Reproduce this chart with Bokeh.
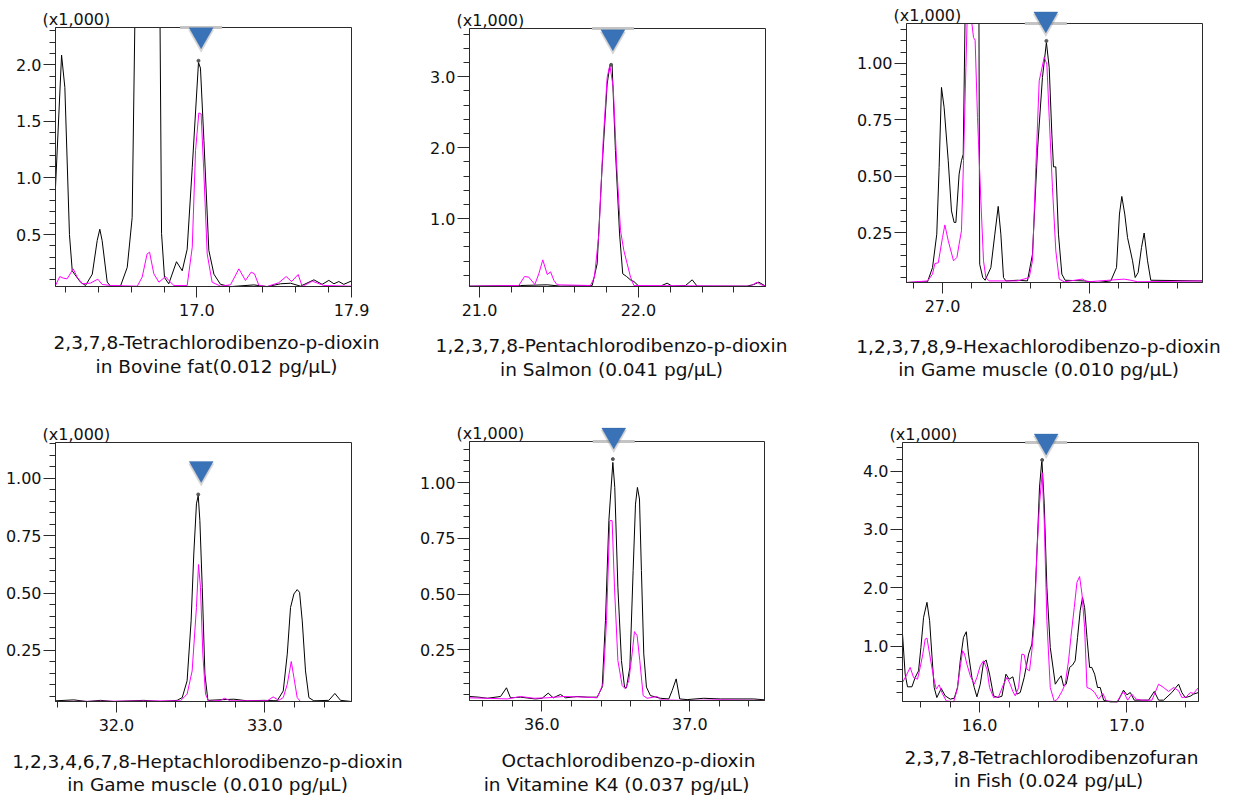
import numpy as np
from bokeh.plotting import figure
from bokeh.layouts import column, row
from bokeh.models import (FixedTicker, Label, PolyAnnotation, Range1d,
                          NumeralTickFormatter)
from bokeh.embed import file_html
from bokeh.resources import INLINE

# ---------------- data (retention time in min, intensity x1,000) ----------------
titles = [
    ("2,3,7,8-Tetrachlorodibenzo-p-dioxin", "in Bovine fat(0.012 pg/\u00b5L)"),
    ("1,2,3,7,8-Pentachlorodibenzo-p-dioxin", "in Salmon (0.041 pg/\u00b5L)"),
    ("1,2,3,7,8,9-Hexachlorodibenzo-p-dioxin", "in Game muscle (0.010 pg/\u00b5L)"),
    ("1,2,3,4,6,7,8-Heptachlorodibenzo-p-dioxin", "in Game muscle (0.010 pg/\u00b5L)"),
    ("Octachlorodibenzo-p-dioxin", "in Vitamine K4 (0.037 pg/\u00b5L)"),
    ("2,3,7,8-Tetrachlorodibenzofuran", "in Fish (0.024 pg/\u00b5L)"),
]
scale_label = "(x1,000)"

x_ranges = [(16.139, 17.942), (20.937, 22.799), (26.755, 28.769),
            (31.589, 33.584), (35.511, 37.505), (15.477, 17.486)]
y_ranges = [(0.041, 2.329), (0.042, 3.681), (0.030, 1.177),
            (0.028, 1.155), (0.023, 1.185), (0.050, 4.490)]

x_major = [[17.0, 17.942], [21.0, 22.0], [27.0, 28.0],
           [32.0, 33.0], [36.0, 37.0], [16.0, 17.0]]
x_minor_start = [16.2, 21.2, 26.8, 31.6, 35.6, 15.6]
x_minor_end = [17.8, 22.6, 28.6, 33.4, 37.4, 17.4]
y_major = [[0.5, 1.0, 1.5, 2.0], [1.0, 2.0, 3.0], [0.25, 0.5, 0.75, 1.0],
           [0.25, 0.5, 0.75, 1.0], [0.25, 0.5, 0.75, 1.0], [1.0, 2.0, 3.0, 4.0]]
y_minor_step = [0.1, 0.2, 0.05, 0.05, 0.05, 0.2]
y_formats = ["0.0", "0.0", "0.00", "0.00", "0.00", "0.0"]

# Panel 1 (off-scale peak shown clipped at the display maximum)
p1_t_black = [16.139, 16.176, 16.196, 16.224, 16.241, 16.255, 16.291, 16.322, 16.363, 16.393,
              16.409, 16.423, 16.454, 16.474, 16.535, 16.576, 16.606, 16.622, 16.776,
              16.785, 16.803, 16.829, 16.876, 16.911, 16.941, 16.972, 17.010, 17.022, 17.043,
              17.073, 17.104, 17.144, 17.205, 17.347, 17.428, 17.510, 17.571, 17.631, 17.713,
              17.763, 17.804, 17.835, 17.865, 17.895, 17.942]
p1_v_black = [0.918, 2.085, 1.80, 0.50, 0.18, 0.15, 0.08, 0.05, 0.15, 0.447,
              0.547, 0.447, 0.08, 0.045, 0.045, 0.21, 0.65, 2.329, 2.329,
              0.51, 0.12, 0.065, 0.26, 0.18, 0.37, 1.094, 2.02, 1.97, 1.33,
              0.36, 0.15, 0.06, 0.04, 0.055, 0.04, 0.065, 0.07, 0.044, 0.10,
              0.06, 0.095, 0.065, 0.085, 0.06, 0.09]
p1_t_mag = [16.139, 16.165, 16.186, 16.210, 16.247, 16.271, 16.302, 16.352, 16.397, 16.423,
            16.474, 16.637, 16.667, 16.697, 16.712, 16.738, 16.769, 16.809, 16.829, 16.860,
            16.941, 16.972, 16.992, 17.012, 17.026, 17.043, 17.063, 17.093, 17.144, 17.205,
            17.256, 17.296, 17.331, 17.351, 17.378, 17.428, 17.499, 17.544, 17.577, 17.617,
            17.642, 17.703, 17.774, 17.942]
p1_v_mag = [0.05, 0.129, 0.115, 0.109, 0.197, 0.124, 0.065, 0.071, 0.106, 0.059,
            0.05, 0.044, 0.124, 0.329, 0.344, 0.153, 0.079, 0.129, 0.094, 0.05,
            0.05, 0.388, 1.241, 1.574, 1.565, 1.035, 0.329, 0.079, 0.044, 0.056,
            0.197, 0.094, 0.168, 0.153, 0.05, 0.041, 0.074, 0.129, 0.085, 0.147,
            0.041, 0.088, 0.05, 0.044]

# Panel 2
p2_t_black = [20.937, 21.258, 21.426, 21.509, 21.709, 21.740, 21.771, 21.803, 21.820, 21.834,
              21.855, 21.881, 21.901, 21.925, 21.954, 21.971, 22.002, 22.138, 22.180, 22.212,
              22.296, 22.338, 22.369, 22.683, 22.725, 22.757, 22.799]
p2_v_black = [0.047, 0.056, 0.066, 0.047, 0.056, 0.362, 1.723, 2.897, 3.164, 3.169,
              1.958, 0.784, 0.221, 0.183, 0.127, 0.113, 0.047, 0.047, 0.089, 0.047,
              0.056, 0.136, 0.047, 0.047, 0.070, 0.103, 0.047]
p2_t_mag = [20.937, 21.247, 21.283, 21.310, 21.348, 21.373, 21.398, 21.426, 21.447, 21.468,
            21.488, 21.698, 21.723, 21.751, 21.778, 21.803, 21.820, 21.841, 21.866, 21.887,
            21.908, 21.929, 21.950, 21.971, 22.704, 22.746, 22.767, 22.799]
p2_v_mag = [0.047, 0.056, 0.183, 0.174, 0.070, 0.221, 0.418, 0.211, 0.249, 0.127,
            0.066, 0.056, 0.174, 0.784, 2.099, 2.991, 3.164, 2.850, 1.629, 0.831,
            0.549, 0.362, 0.174, 0.056, 0.047, 0.103, 0.070, 0.047]

# Panel 3 (off-scale peak shown clipped at the display maximum)
p3_t_black = [26.755, 26.898, 26.932, 26.961, 26.977, 26.993, 27.011, 27.039, 27.061, 27.079,
              27.091, 27.113, 27.129, 27.141, 27.153, 27.248, 27.253, 27.274, 27.290,
              27.329, 27.356, 27.379, 27.397, 27.415, 27.431, 27.510, 27.578, 27.612, 27.646,
              27.680, 27.707, 27.726, 27.744, 27.755, 27.771, 27.789, 27.812, 27.834, 27.964,
              28.054, 28.145, 28.184, 28.204, 28.220, 28.240, 28.259, 28.293, 28.311, 28.331,
              28.354, 28.372, 28.395, 28.417, 28.769]
p3_v_black = [0.030, 0.033, 0.096, 0.244, 0.539, 0.894, 0.805, 0.569, 0.347, 0.296,
              0.296, 0.510, 0.569, 0.598, 1.177, 1.177, 0.111, 0.052, 0.040,
              0.096, 0.244, 0.367, 0.244, 0.052, 0.037, 0.040, 0.037, 0.155, 0.613,
              0.938, 1.093, 0.982, 0.687, 0.542, 0.542, 0.244, 0.067, 0.040, 0.037,
              0.030, 0.037, 0.096, 0.333, 0.411, 0.333, 0.229, 0.126, 0.052, 0.074,
              0.185, 0.249, 0.126, 0.040, 0.037]
p3_t_mag = [26.755, 26.898, 26.932, 26.948, 26.971, 27.000, 27.016, 27.039, 27.075, 27.098,
            27.113, 27.129, 27.143, 27.159, 27.167, 27.200, 27.211, 27.222, 27.238, 27.261,
            27.279, 27.295, 27.317, 27.510, 27.590, 27.612, 27.635, 27.658, 27.692, 27.710,
            27.726, 27.748, 27.771, 27.794, 27.828, 27.952, 27.986, 28.236, 28.281, 28.327,
            28.769]
p3_v_mag = [0.030, 0.037, 0.067, 0.114, 0.117, 0.229, 0.285, 0.215, 0.126, 0.141,
            0.200, 0.259, 0.569, 0.982, 1.177, 1.177, 1.115, 1.103, 0.761, 0.392,
            0.126, 0.052, 0.037, 0.037, 0.052, 0.126, 0.539, 0.923, 1.027, 0.997,
            0.761, 0.451, 0.170, 0.045, 0.033, 0.045, 0.033, 0.045, 0.040, 0.033,
            0.037]

# Panel 4
p4_t_black = [31.589, 31.712, 31.802, 31.892, 31.982, 32.184, 32.297, 32.409, 32.443, 32.476,
              32.503, 32.521, 32.539, 32.551, 32.562, 32.578, 32.596, 32.616, 32.791, 32.881,
              32.993, 33.083, 33.124, 33.151, 33.173, 33.196, 33.218, 33.234, 33.252, 33.274,
              33.297, 33.330, 33.431, 33.472, 33.510, 33.584]
p4_v_black = [0.031, 0.035, 0.028, 0.033, 0.028, 0.033, 0.028, 0.033, 0.045, 0.118,
              0.379, 0.670, 0.888, 0.924, 0.815, 0.525, 0.147, 0.033, 0.038, 0.031,
              0.033, 0.031, 0.074, 0.234, 0.437, 0.496, 0.515, 0.503, 0.379, 0.161,
              0.045, 0.031, 0.033, 0.063, 0.033, 0.028]
p4_t_mag = [31.589, 32.431, 32.476, 32.510, 32.539, 32.553, 32.566, 32.582, 32.600, 32.622,
            32.701, 32.728, 32.769, 33.016, 33.056, 33.094, 33.124, 33.151, 33.178, 33.196,
            33.218, 33.240, 33.584]
p4_v_mag = [0.028, 0.031, 0.060, 0.161, 0.437, 0.624, 0.525, 0.234, 0.060, 0.028,
            0.033, 0.042, 0.031, 0.031, 0.048, 0.033, 0.045, 0.103, 0.202, 0.132,
            0.045, 0.028, 0.028]

# Panel 5
p5_t_black = [35.511, 35.574, 35.631, 35.721, 35.761, 35.788, 35.856, 35.957, 36.002, 36.043,
              36.077, 36.126, 36.160, 36.239, 36.306, 36.374, 36.408, 36.430, 36.453, 36.480,
              36.493, 36.514, 36.538, 36.559, 36.572, 36.595, 36.617, 36.633, 36.646, 36.660,
              36.673, 36.689, 36.707, 36.734, 36.802, 36.858, 36.881, 36.908, 36.932, 36.982,
              37.095, 37.207, 37.432, 37.505]
p5_v_black = [0.041, 0.038, 0.033, 0.041, 0.080, 0.035, 0.038, 0.030, 0.033, 0.056,
              0.035, 0.050, 0.035, 0.041, 0.038, 0.038, 0.083, 0.381, 0.830, 1.091,
              0.979, 0.531, 0.202, 0.083, 0.080, 0.172, 0.606, 0.904, 0.979, 0.927,
              0.606, 0.232, 0.083, 0.045, 0.033, 0.030, 0.068, 0.120, 0.030, 0.027,
              0.033, 0.030, 0.030, 0.026]
p5_t_mag = [35.511, 35.631, 35.766, 35.856, 35.946, 36.036, 36.149, 36.306, 36.374, 36.414,
            36.437, 36.459, 36.475, 36.491, 36.514, 36.543, 36.565, 36.588, 36.610, 36.626,
            36.644, 36.662, 36.685, 36.712, 36.779, 36.802, 36.982, 37.207, 37.505]
p5_v_mag = [0.035, 0.033, 0.030, 0.041, 0.033, 0.035, 0.041, 0.038, 0.035, 0.098,
            0.381, 0.830, 0.830, 0.531, 0.202, 0.090, 0.075, 0.113, 0.232, 0.332,
            0.314, 0.202, 0.045, 0.033, 0.041, 0.026, 0.023, 0.026, 0.023]

# Panel 6
p6_t_black = [15.477, 15.495, 15.511, 15.541, 15.563, 15.586, 15.602, 15.620, 15.643, 15.661,
              15.676, 15.692, 15.710, 15.740, 15.767, 15.801, 15.828, 15.851, 15.869, 15.891,
              15.910, 15.925, 15.948, 15.964, 15.982, 16.005, 16.027, 16.045, 16.068, 16.095,
              16.124, 16.152, 16.179, 16.201, 16.226, 16.253, 16.276, 16.303, 16.333, 16.355,
              16.371, 16.389, 16.407, 16.423, 16.439, 16.457, 16.480, 16.514, 16.536, 16.554,
              16.570, 16.588, 16.611, 16.631, 16.649, 16.665, 16.683, 16.699, 16.713, 16.729,
              16.747, 16.762, 16.781, 16.801, 16.819, 16.842, 16.887, 16.937, 16.977, 17.000,
              17.023, 17.050, 17.102, 17.147, 17.186, 17.215, 17.249, 17.305, 17.351, 17.373,
              17.396, 17.430, 17.452, 17.486]
p6_v_black = [1.206, 0.519, 0.302, 0.302, 0.462, 0.576, 0.977, 1.492, 1.750, 1.435,
              0.863, 0.290, 0.118, 0.273, 0.147, 0.090, 0.107, 0.290, 0.748, 1.149,
              1.246, 0.863, 0.462, 0.290, 0.130, 0.347, 0.720, 0.760, 0.519, 0.147,
              0.118, 0.141, 0.519, 0.433, 0.473, 0.176, 0.204, 0.462, 0.863, 1.034,
              1.550, 2.580, 3.725, 4.194, 3.438, 2.007, 0.977, 0.347, 0.433, 0.491,
              0.319, 0.347, 0.634, 0.674, 0.748, 1.149, 1.607, 1.836, 1.664, 1.149,
              0.634, 0.634, 0.519, 0.290, 0.290, 0.073, 0.044, 0.044, 0.244, 0.164,
              0.204, 0.073, 0.073, 0.073, 0.222, 0.073, 0.073, 0.204, 0.347, 0.204,
              0.118, 0.141, 0.176, 0.204]
p6_t_mag = [15.477, 15.502, 15.529, 15.552, 15.579, 15.597, 15.615, 15.631, 15.643, 15.661,
            15.688, 15.706, 15.726, 15.744, 15.774, 15.824, 15.846, 15.869, 15.885, 15.898,
            15.914, 15.937, 15.964, 15.982, 16.005, 16.027, 16.050, 16.068, 16.095, 16.129,
            16.163, 16.186, 16.208, 16.226, 16.242, 16.265, 16.287, 16.303, 16.321, 16.339,
            16.355, 16.373, 16.389, 16.407, 16.425, 16.439, 16.457, 16.480, 16.507, 16.529,
            16.559, 16.581, 16.604, 16.620, 16.643, 16.661, 16.679, 16.695, 16.713, 16.729,
            16.756, 16.781, 16.808, 16.837, 16.860, 16.932, 16.977, 17.005, 17.034, 17.063,
            17.102, 17.170, 17.215, 17.249, 17.283, 17.317, 17.351, 17.373, 17.403, 17.430,
            17.452, 17.486]
p6_v_mag = [0.376, 0.491, 0.634, 0.462, 0.433, 0.634, 0.863, 1.120, 1.137, 0.863,
            0.462, 0.262, 0.336, 0.204, 0.061, 0.044, 0.233, 0.634, 0.920, 0.863,
            0.691, 0.491, 0.347, 0.462, 0.662, 0.748, 0.605, 0.290, 0.118, 0.130,
            0.347, 0.462, 0.347, 0.222, 0.147, 0.290, 0.863, 0.851, 0.605, 0.576,
            0.920, 1.435, 2.580, 3.438, 3.971, 3.152, 1.435, 0.290, 0.050, 0.090,
            0.222, 0.347, 0.748, 1.149, 1.664, 2.093, 2.191, 1.893, 1.321, 0.290,
            0.262, 0.204, 0.090, 0.187, 0.061, 0.044, 0.222, 0.073, 0.176, 0.090,
            0.073, 0.073, 0.347, 0.290, 0.222, 0.290, 0.233, 0.118, 0.130, 0.204,
            0.187, 0.290]

black_t = [p1_t_black, p2_t_black, p3_t_black, p4_t_black, p5_t_black, p6_t_black]
black_v = [p1_v_black, p2_v_black, p3_v_black, p4_v_black, p5_v_black, p6_v_black]
mag_t = [p1_t_mag, p2_t_mag, p3_t_mag, p4_t_mag, p5_t_mag, p6_t_mag]
mag_v = [p1_v_mag, p2_v_mag, p3_v_mag, p4_v_mag, p5_v_mag, p6_v_mag]

# peak markers: triangle centre time, apex (time, value)
marker_t = [17.026, 21.839, 27.703, 32.571, 36.486, 16.452]
peak_t = [17.010, 21.828, 27.707, 32.551, 36.480, 16.425]
peak_v = [2.035, 3.169, 1.100, 0.929, 1.106, 4.190]

# ---------------- layout / style ----------------
FONT = "DejaVu Sans"
AX = "#2a2a2a"
cell_w = [412, 433, 391, 412, 433, 391]
cell_h = [400, 400, 400, 402, 402, 402]
box_w = [296, 296, 296, 296, 295, 296]
box_h = [259, 258, 259, 259, 259, 259]
box_left = [55, 57, 61, 55, 57, 57]
box_top = [27, 28, 23, 42, 41, 42]
tri_gap = [12, 14, 8, 12, 10, 5]
show_bar = [True, True, True, False, True, True]
title_dx = [(161, 161), (142, 142), (132, 132), (152, 152), (159, 147), (149, 146)]
title_dy = [(-56, -80), (-59, -83), (-64, -87), (-60, -83), (-60, -84), (-56, -79)]


def make_panel(i):
    x0, x1 = x_ranges[i]
    y0, y1 = y_ranges[i]
    W, H = cell_w[i], cell_h[i]
    bw, bh = box_w[i], box_h[i]
    ppx = bw / (x1 - x0)
    ppy = bh / (y1 - y0)
    bl, bt = box_left[i], box_top[i]
    br = W - bl - bw
    bb = H - bt - bh
    X0, X1 = x0 - bl / ppx, x1 + br / ppx
    Y0, Y1 = y0 - bb / ppy, y1 + bt / ppy

    p = figure(width=W, height=H, min_border=0,
               min_border_left=0, min_border_right=0,
               min_border_top=0, min_border_bottom=0,
               x_range=Range1d(X0, X1), y_range=Range1d(Y0, Y1),
               output_backend="svg", toolbar_location=None, tools="")
    p.grid.visible = False
    p.background_fill_color = "white"
    p.border_fill_color = "white"
    p.outline_line_color = None

    xminor = list(np.round(np.arange(x_minor_start[i], x_minor_end[i] + 1e-6, 0.2), 3))
    p.xaxis.ticker = FixedTicker(ticks=x_major[i], minor_ticks=xminor)
    p.xaxis.formatter = NumeralTickFormatter(format="0.0")
    ymin_ticks = list(np.round(np.arange(y_minor_step[i], y1, y_minor_step[i]), 3))
    p.yaxis.ticker = FixedTicker(ticks=y_major[i], minor_ticks=ymin_ticks)
    p.yaxis.formatter = NumeralTickFormatter(format=y_formats[i])
    p.xaxis.fixed_location = y0
    p.yaxis.fixed_location = x0
    p.xaxis.bounds = (x0, x1)
    p.yaxis.bounds = (y0, y1)

    for ax in (p.xaxis[0], p.yaxis[0]):
        ax.axis_line_color = AX
        ax.major_tick_line_color = AX
        ax.minor_tick_line_color = AX
        ax.major_tick_in = 0
        ax.minor_tick_in = 0
        ax.minor_tick_out = 6
        ax.major_label_text_font = FONT
        ax.major_label_text_font_size = "16px"
        ax.major_label_text_color = "#111111"
    p.xaxis.major_tick_out = 11
    p.xaxis.major_label_standoff = 6
    p.yaxis.major_tick_out = 12
    p.yaxis.major_label_standoff = 2

    p.line(black_t[i], black_v[i], line_color="black", line_width=1)
    p.line(mag_t[i], mag_v[i], line_color="#ff00ff", line_width=1)
    p.scatter([peak_t[i]], [peak_v[i]], size=3, color="#555555")

    # plot box
    p.quad(left=[x0], right=[x1], bottom=[y0], top=[y1], fill_color=None,
           line_color=AX, line_width=1)

    tc = marker_t[i]
    if show_bar[i]:
        p.quad(left=[tc - 21 / ppx], right=[tc + 21 / ppx],
               bottom=[y1 - 1.5 / ppy], top=[y1 + 1.5 / ppy],
               fill_color="#c4c4c4", line_color=None)
    tip = peak_v[i] + tri_gap[i] / ppy
    top = tip + 21 / ppy
    hw = 12 / ppx
    p.add_layout(PolyAnnotation(xs=[tc - hw - 1 / ppx, tc + hw + 1 / ppx, tc],
                                ys=[top - 2 / ppy, top - 2 / ppy, tip - 4 / ppy],
                                fill_color="#777777", fill_alpha=0.3, line_color=None))
    p.add_layout(PolyAnnotation(xs=[tc - hw, tc + hw, tc], ys=[top, top, tip],
                                fill_color="#3a72b8", fill_alpha=1.0,
                                line_color="#2f63a6", line_width=1))

    p.add_layout(Label(x=x0 - 13 / ppx, y=y1 + 8.5 / ppy,
                       text=scale_label, text_font=FONT, text_font_size="16px",
                       text_baseline="middle", text_align="left", text_color="#111111"))
    for k in range(2):
        p.add_layout(Label(x=x0 + title_dx[i][k] / ppx, y=y0 + title_dy[i][k] / ppy,
                           text=titles[i][k], text_font=FONT,
                           text_font_size="18.5px", text_baseline="middle",
                           text_align="center", text_color="#111111"))
    return p


panels = [make_panel(i) for i in range(6)]
layout = column(row(*panels[:3]), row(*panels[3:]))
open("out.html", "w").write(file_html(layout, INLINE))
